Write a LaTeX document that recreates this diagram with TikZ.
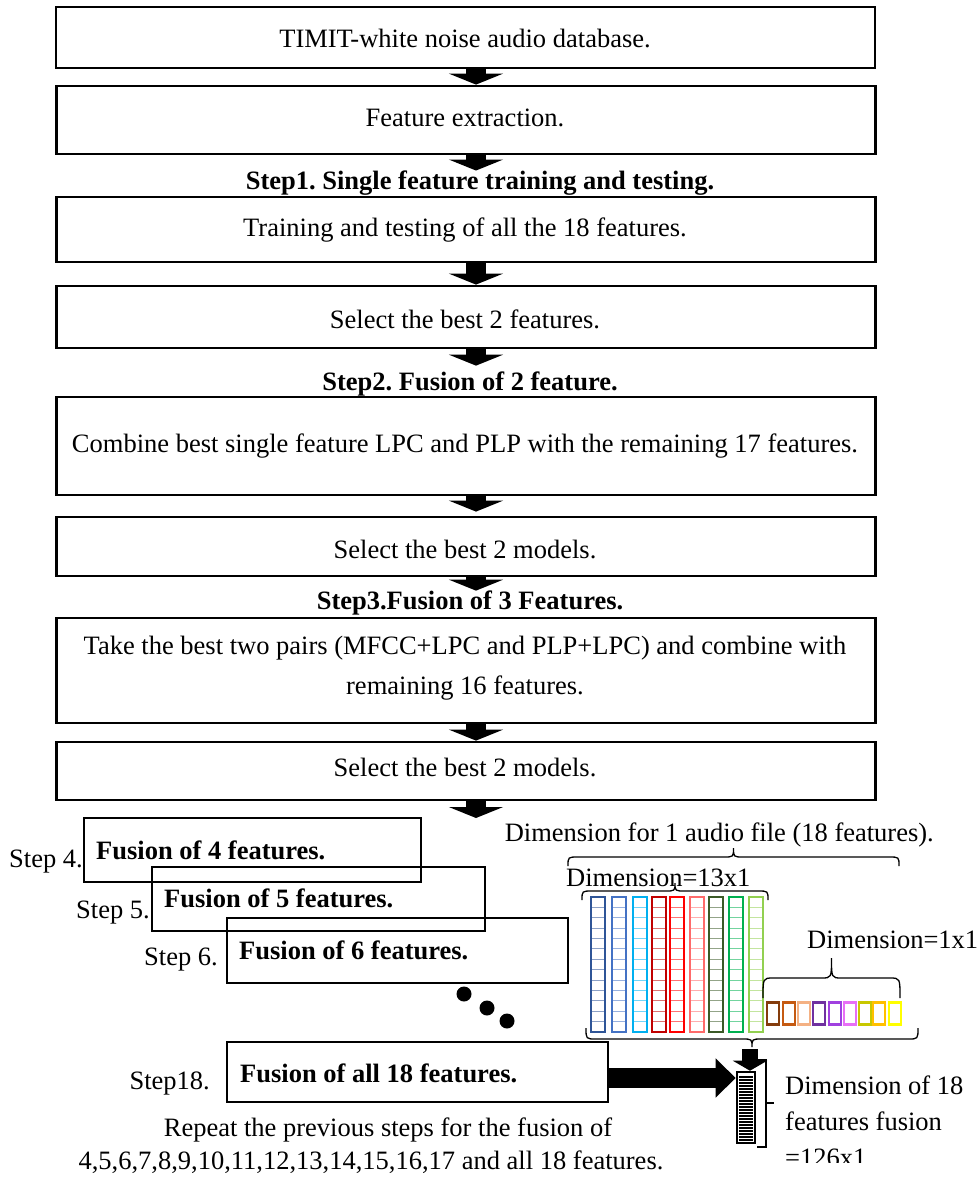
\documentclass[tikz,border=0pt]{standalone}
\usepackage{fontspec}
\setmainfont{Liberation Serif}
\usetikzlibrary{arrows.meta,calc}
\frenchspacing

% feature colours
\definecolor{fa}{HTML}{2F5597}
\definecolor{fb}{HTML}{4472C4}
\definecolor{fc}{HTML}{00B0F0}
\definecolor{fd}{HTML}{C00000}
\definecolor{fe}{HTML}{FF0000}
\definecolor{ff}{HTML}{FF6B6B}
\definecolor{fg}{HTML}{3B5A27}
\definecolor{fh}{HTML}{00B050}
\definecolor{fi}{HTML}{92D050}
\definecolor{sa}{HTML}{843C0C}
\definecolor{sb}{HTML}{C55A11}
\definecolor{sc}{HTML}{F4B183}
\definecolor{sd}{HTML}{7030A0}
\definecolor{se}{HTML}{A040E0}
\definecolor{sf}{HTML}{E76FF6}
\definecolor{sg}{HTML}{C8C800}
\definecolor{sh}{HTML}{FFC000}
\definecolor{si}{HTML}{FFFF00}

% curly brace: x-left, x-right, y of the ends, y of the arms, y of the tip
\newcommand\curlybrace[5]{%
  \draw[bracestyle] (#1,#3) .. controls (#1,#4) .. ({#1+10},#4)
    -- ({(#1+#2)/2-10},#4) .. controls ({(#1+#2)/2},#4) .. ({(#1+#2)/2},#5)
    .. controls ({(#1+#2)/2},#4) .. ({(#1+#2)/2+10},#4)
    -- ({#2-10},#4) .. controls (#2,#4) .. (#2,#3);}

% one 13x1 feature column of cells
\newcommand\featcol[3]{%
  \foreach \k in {1,...,12}
    \draw[#2!55, line width=1.1pt] (#1,{897+\k*135/13}) -- ({#1+14},{897+\k*135/13});
  \draw[#2, line width=2.4pt] (#1,897) rectangle ({#1+14},1032);
  \node[inner sep=0, minimum width=14pt, minimum height=135pt] (#3) at ({#1+7},964.5) {};}

% one 1x1 feature cell
\newcommand\featcell[3]{%
  \node[draw=#2, line width=2.4pt, inner sep=0, minimum width=12pt, minimum height=22pt] (#3) at ({#1+6},1013.5) {};}

\begin{document}
\begin{tikzpicture}[x=1pt, y=-1pt,
  font=\fontsize{26.5}{40}\selectfont,
  flowbox/.style={draw, line width=2.8pt, inner sep=0, minimum width=819pt},
  fusebox/.style={draw, line width=2.8pt, inner sep=0},
  txt/.style={inner sep=0, align=center},
  steplabel/.style={inner sep=0, font=\fontsize{26.5}{40}\selectfont\bfseries},
  downarrow/.style={line width=20pt, -{Triangle[width=54pt,length=11pt]}},
  bracestyle/.style={line width=1.3pt}]

\useasboundingbox (0,0) rectangle (980,1181);

% ---- main flow ----
\coordinate (ax) at (476,0);

\node[flowbox, minimum height=61pt] (b1) at (465.5,37.5) {};
\node[txt] (t1) at (465,38) {TIMIT-white noise audio database.};

\node[flowbox, minimum height=68pt] (b2) at (466,120) {};
\node[txt] (t2) at (465,118) {Feature extraction.};

\node[steplabel] (l1) at (480,183) {Step1. Single feature training and testing.};

\node[flowbox, minimum height=65pt] (b3) at (466,229.5) {};
\node[txt] (t3) at (465,230) {Training and testing of all the 18 features.};

\node[flowbox, minimum height=62pt] (b4) at (466,317) {};
\node[txt] (t4) at (465,319) {Select the best 2 features.};

\node[steplabel] (l2) at (470,384) {Step2. Fusion of 2 feature.};

\node[flowbox, minimum height=98pt] (b5) at (466,446) {};
\node[txt] (t5) at (465,446) {Combine best single feature LPC and PLP with the remaining 17 features.};

\node[flowbox, minimum height=59pt] (b6) at (466,546.5) {};
\node[txt] (t6) at (465,549) {Select the best 2 models.};

\node[steplabel] (l3) at (470,603) {Step3.Fusion of 3 Features.};

\node[flowbox, minimum height=105pt] (b7) at (466,670.5) {};
\node[txt] (t7) at (465,668) {Take the best two pairs (MFCC+LPC and PLP+LPC) and combine with\\remaining 16 features.};

\node[flowbox, minimum height=58pt] (b8) at (466,771) {};
\node[txt] (t8) at (465,767) {Select the best 2 models.};

\coordinate (e8) at (476,818);

\draw[downarrow] (b1.south -| ax) -- (b2.north -| ax);
\draw[downarrow] (b2.south -| ax) -- (l1.north -| ax);
\draw[downarrow] (b3.south -| ax) -- (b4.north -| ax);
\draw[downarrow] (b4.south -| ax) -- ($(l2.north -| ax)+(0,-6)$);
\draw[downarrow] (b5.south -| ax) -- ($(b6.north -| ax)+(0,-4)$);
\draw[downarrow] (b6.south -| ax) -- (l3.north -| ax);
\draw[downarrow] (b7.south -| ax) -- (b8.north -| ax);
\draw[downarrow] (b8.south -| ax) -- (e8);

% ---- staircase of fusion steps ----
\node[fusebox, minimum width=337pt, minimum height=64pt] (s4) at (252.5,850) {};
\node[fusebox, minimum width=333pt, minimum height=64pt] (s5) at (318.5,899) {};
\node[fusebox, minimum width=341pt, minimum height=65pt] (s6) at (397.5,950.5) {};
\node[fusebox, minimum width=381pt, minimum height=60pt] (s18) at (417.5,1072) {};

\node[steplabel, anchor=west] (f4) at (96,850) {Fusion of 4 features.};
\node[steplabel, anchor=west] (f5) at (164,898) {Fusion of 5 features.};
\node[steplabel, anchor=west] (f6) at (239,950) {Fusion of 6 features.};
\node[steplabel, anchor=west] (f18) at (240,1073) {Fusion of all 18 features.};

\node[txt, anchor=east] (n4) at (83,862) {Step 4.};
\node[txt, anchor=east] (n5) at (150,913) {Step 5.};
\node[txt, anchor=east] (n6) at (218,960) {Step 6.};
\node[txt, anchor=east] (n18) at (210,1083) {Step18.};

\fill (464,994) circle (7.5);
\fill (487,1008) circle (7.5);
\fill (507,1021) circle (7.5);

\node[txt] (r1) at (388,1130) {Repeat the previous steps for the fusion of};
\node[txt] (r2) at (371,1162) {4,5,6,7,8,9,10,11,12,13,14,15,16,17 and all 18 features.};

% ---- feature dimensions ----
\node[txt, anchor=east] (d18) at (934,835) {Dimension for 1 audio file (18 features).};
\curlybrace{568}{899}{866}{857}{848}

\node[txt, anchor=west] (d13) at (566,878) {Dimension=13x1};
\curlybrace{582}{768}{900}{891}{883}

\featcol{591}{fa}{c1}
\featcol{612}{fb}{c2}
\featcol{633}{fc}{c3}
\featcol{652}{fd}{c4}
\featcol{670}{fe}{c5}
\featcol{690}{ff}{c6}
\featcol{709}{fg}{c7}
\featcol{729}{fh}{c8}
\featcol{749}{fi}{c9}

\node[txt, anchor=west] (d1) at (807,940) {Dimension=1x1};
\curlybrace{763}{900}{998}{978}{958}

\featcell{767}{sa}{q1}
\featcell{783}{sb}{q2}
\featcell{798}{sc}{q3}
\featcell{813}{sd}{q4}
\featcell{829}{se}{q5}
\featcell{844}{sf}{q6}
\featcell{859}{sg}{q7}
\featcell{873}{sh}{q8}
\featcell{889}{si}{q9}

\curlybrace{586}{918}{1028}{1039}{1047}

% fused 126x1 vector
\node[draw, line width=2.6pt, inner sep=0, minimum width=18pt, minimum height=71pt] (bar) at (746,1107.5) {};
\foreach \k in {1,...,22}
  \draw[line width=1.1pt] (739,{1074+\k*3}) -- (753,{1074+\k*3});

\coordinate (bt) at (750,1049);
\draw[line width=16pt, -{Triangle[width=34pt,length=10pt]}] (bt) -- (bar.north -| bt);

\coordinate (ha) at (609,1078);
\draw[line width=20pt, -{Triangle[width=38pt,length=20pt]}] (ha -| s18.east) -- (ha -| bar.west);

\draw[line width=1.3pt] (757,1060) -- (766,1060) -- (766,1147) -- (757,1147);
\draw[line width=1.3pt] (766,1103) -- (774,1103);

\begin{scope}
  \clip (770,1060) rectangle (980,1162);
  \node[txt, anchor=west, align=left, font=\fontsize{26.5}{36}\selectfont] (dd) at (785,1121)
    {Dimension of 18\\features fusion\\=126x1.};
\end{scope}

\end{tikzpicture}
\end{document}
